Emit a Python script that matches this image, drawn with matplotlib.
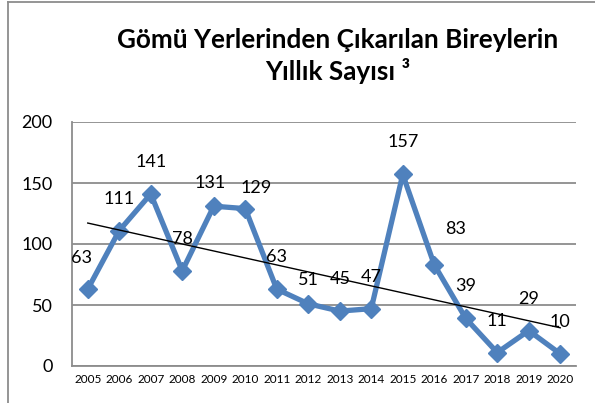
#!/usr/bin/env python3
"""Yearly count of individuals removed from burial sites, with linear trend."""
import numpy as np
import matplotlib

matplotlib.use("Agg")
import matplotlib.pyplot as plt
from matplotlib.lines import Line2D

years = ["2005", "2006", "2007", "2008", "2009", "2010", "2011", "2012",
         "2013", "2014", "2015", "2016", "2017", "2018", "2019", "2020"]
counts = [63, 111, 141, 78, 131, 129, 63, 51, 45, 47, 157, 83, 39, 11, 29, 10]
y_ticks = [0, 50, 100, 150, 200]
title = "Gömü Yerlerinden Çıkarılan Bireylerin\nYıllık Sayısı ³"

# data labels sit ~32 px above the point; a few were nudged by hand in the original
label_shift = {"2005": (-6, 31), "2009": (-4, 23), "2010": (11, 21),
               "2012": (0, 24), "2016": (21, 36)}

plt.rcParams["font.family"] = ["Lato", "DejaVu Sans"]

fig = plt.figure(figsize=(5.95, 4.03), dpi=100)
ax = fig.add_axes([72 / 595, 1 - 366 / 403, (576 - 72) / 595, (366 - 122) / 403])

x = np.arange(len(years))
ax.plot(x, counts, color="#4F81BD", linewidth=3.8, marker="D", markersize=9.5,
        solid_joinstyle="round", zorder=3)

# linear trendline (least squares, same as Excel's)
slope, intercept = np.polyfit(x, counts, 1)
ax.plot(x, slope * x + intercept, color="black", linewidth=1.0, zorder=4)

for xi, yr, v in zip(x, years, counts):
    dx, dy = label_shift.get(yr, (0, 32))
    ax.annotate(str(v), (xi, v), xytext=(dx, dy), textcoords="offset pixels",
                ha="center", va="center", fontsize=13, zorder=5)

ax.set_xlim(-0.5, len(years) - 0.5)
ax.set_ylim(0, 200)
ax.set_yticks(y_ticks)
ax.set_yticklabels([str(t) for t in y_ticks], fontsize=13)
ax.set_xticks(x)
ax.set_xticklabels(years, fontsize=8.5)
ax.tick_params(axis="both", length=0)
ax.tick_params(axis="y", pad=14)
ax.tick_params(axis="x", pad=6)
ax.grid(axis="y", color="#8c8c8c", linewidth=1.3)
ax.set_axisbelow(True)
for side in ("top", "right"):
    ax.spines[side].set_visible(False)
for side in ("left", "bottom"):
    ax.spines[side].set_color("#8c8c8c")
    ax.spines[side].set_linewidth(1.3)

fig.text(338 / 595, 1 - 56 / 403, title, ha="center", va="center",
         fontsize=18.8, fontweight="bold", linespacing=1.3)

# outer frame edges visible in the reference (left and top)
fig.add_artist(Line2D([8 / 595, 8 / 595], [0, 1 - 2 / 403], transform=fig.transFigure,
                      color="#8c8c8c", linewidth=1.3))
fig.add_artist(Line2D([8 / 595, 1], [1 - 2 / 403, 1 - 2 / 403], transform=fig.transFigure,
                      color="#8c8c8c", linewidth=1.3))

fig.savefig("out.png")
plt.close(fig)
